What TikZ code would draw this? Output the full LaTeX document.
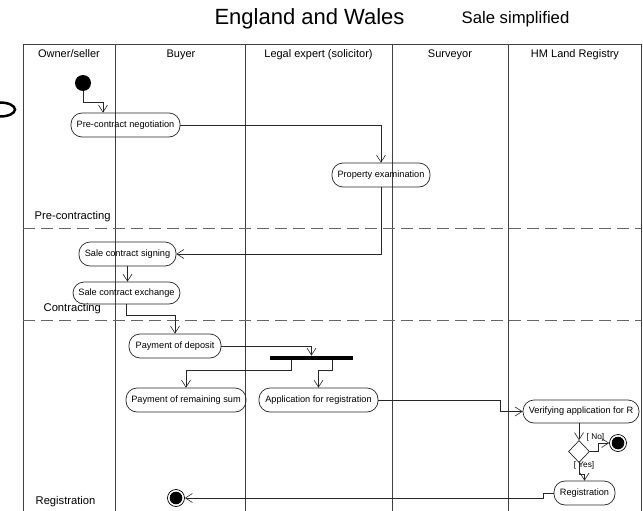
\documentclass[tikz,border=0pt]{standalone}
\usepackage{fontspec}
\setmainfont{Liberation Sans}
\usetikzlibrary{arrows.meta,shapes.geometric}
\begin{document}
\begin{tikzpicture}[x=1pt,y=-1pt,
  line width=0.7pt,
  act/.style={draw=black!85, rounded corners=11pt, inner sep=0pt, font=\fontsize{9.2}{10}\selectfont},
  arr/.style={draw=black!85, -{Straight Barb[length=7pt,width=9pt,line width=0.6pt]}},
  lane/.style={anchor=base, font=\fontsize{11}{13}\selectfont},
  phase/.style={anchor=base west, font=\fontsize{11.2}{13}\selectfont},
  sep/.style={dashed, dash pattern=on 12pt off 6pt, draw=black!60, line width=0.9pt},
  guard/.style={font=\fontsize{8.3}{9}\selectfont, inner sep=0pt},
  endnode/.style={circle, draw, minimum size=17pt, inner sep=0pt,
    path picture={\fill (path picture bounding box.center) circle (6.3pt);}}]
\useasboundingbox (0,0) rectangle (643,511);
\fill[white] (0,0) rectangle (643,511);
% titles
\node[anchor=base, font=\fontsize{22}{24}\selectfont] (title) at (309.5,25) {England and Wales};
\node[anchor=base west, font=\fontsize{16.7}{19}\selectfont] (sub) at (458,24) {Sale simplified};
% frame
\draw[black!75] (23,511) -- (23,44) -- (641,44) -- (641,511);
\foreach \x in {115,245.5,392,508.5} \draw[black!75] (\x,44) -- (\x,511);
\node[lane] (h1) at (69,58) {Owner/seller};
\node[lane] (h2) at (181,58) {Buyer};
\node[lane] (h3) at (318.5,58) {Legal expert (solicitor)};
\node[lane] (h4) at (450,58) {Surveyor};
\node[lane] (h5) at (575,58) {HM Land Registry};
% phase separators
\draw[sep] (23,228) -- (641,228);
\draw[sep] (23,320) -- (641,320);
\node[phase] (p1) at (31,219) {Pre-contracting};
\node[phase] (p2) at (40,311) {Contracting};
\node[phase] (p3) at (32,504) {Registration};
% artifact at left edge
\draw[line width=2.5pt] (0,109.5) ellipse (15 and 7);
% nodes
\node[circle, fill, minimum size=16pt, inner sep=0pt] (start) at (83,83) {};
\node[act, minimum width=109pt, minimum height=24pt] (pcn) at (125.5,125) {Pre-contract negotiation};
\node[act, minimum width=98pt, minimum height=24pt] (pe) at (381,175) {Property examination};
\node[act, minimum width=97pt, minimum height=24pt] (scs) at (127.5,254) {Sale contract signing};
\node[act, minimum width=107pt, minimum height=22pt] (sce) at (126.5,293) {Sale contract exchange};
\node[act, minimum width=92pt, minimum height=24pt] (pod) at (175,346) {Payment of deposit};
\node[fill, minimum width=83pt, minimum height=4pt, inner sep=0pt] (bar) at (311.5,358) {};
\node[act, minimum width=120pt, minimum height=24pt] (prs) at (186,400) {Payment of remaining sum};
\node[act, minimum width=119pt, minimum height=24pt] (afr) at (318.5,400) {Application for registration};
\node[act, minimum width=116pt, minimum height=23pt] (var) at (581,411.5) {Verifying application for R};
\node[diamond, draw=black!85, minimum width=21pt, minimum height=22pt, inner sep=0pt] (dia) at (579,451.5) {};
\node[endnode] (end1) at (618,443) {};
\node[act, minimum width=61pt, minimum height=24pt] (reg) at (584.5,493) {Registration};
\node[endnode] (end2) at (176,498) {};
\node[guard] (no) at (595.5,437) {[ No]};
\node[guard] (yes) at (584,465) {[ Yes]};
% connectors
\coordinate (c1) at (103,102);
\draw[arr] (start.south) |- (c1) -- (c1 |- pcn.north);
\draw[arr] (pcn.east) -| (pe.north);
\draw[arr] (pe.south) |- (scs.east);
\draw[arr] (scs.south) -- (scs.south |- sce.north);
\draw[arr] (sce.south) -- ++(0,11) -| (pod.north);
\draw[arr] (pod.east) -| (bar.north);
\draw[arr] ([xshift=-20.5pt]bar.south) -- ++(0,10) -| (prs.north);
\draw[arr] ([xshift=20.5pt]bar.south) -- ++(0,10) -| (afr.north);
\coordinate (c3) at (500,400);
\draw[arr] (afr.east) -- (c3) |- (var.west);
\draw[arr] (dia |- var.south) -- (dia.north);
\draw[arr] (dia.east) -- ++(8,0) |- (end1.west);
\draw[arr] (dia.south) -- ++(0,11) -| (reg.north);
\draw[arr] (reg.west) -- ++(-10,0) |- (end2.east);
\end{tikzpicture}
\end{document}
